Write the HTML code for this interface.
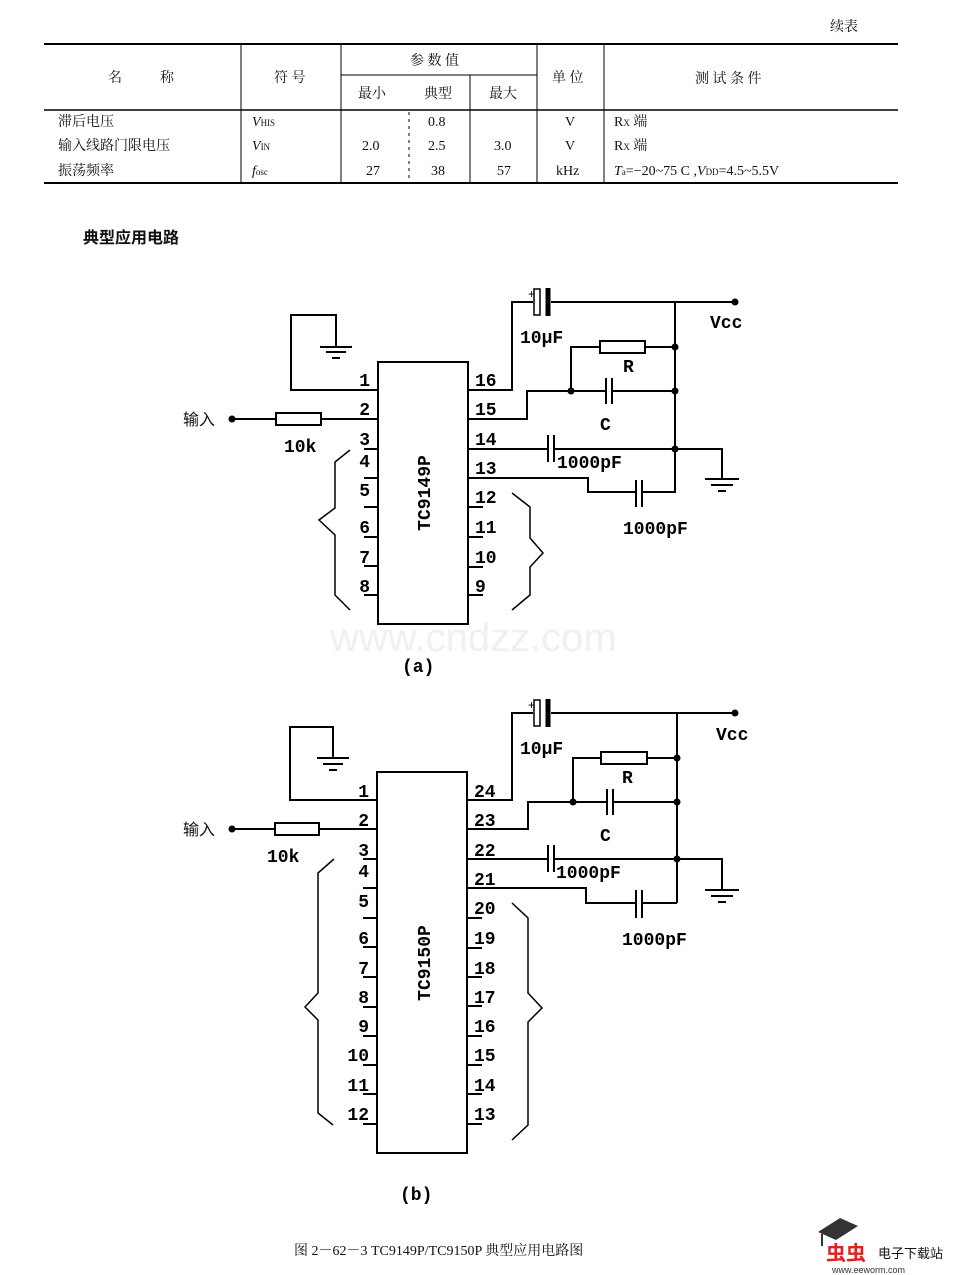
<!DOCTYPE html>
<html><head><meta charset="utf-8"><style>
body{margin:0;background:#fff;width:960px;height:1275px;overflow:hidden}
svg{display:block}
.t{font-family:"Liberation Serif","Noto Serif CJK SC",serif;font-size:14px;fill:#111}
.p{font-family:"Liberation Mono",monospace;font-weight:bold;font-size:18px;fill:#000}
.c{font-family:"Liberation Sans","Noto Sans CJK SC",sans-serif;font-size:16px;fill:#111}
</style></head><body>
<svg width="960" height="1275" viewBox="0 0 960 1275" xmlns="http://www.w3.org/2000/svg">
<!-- table -->
<text x="830" y="31" class="t" font-size="15">续表</text>
<g stroke="#000" fill="none">
<line x1="44" y1="44" x2="898" y2="44" stroke-width="2"/>
<line x1="341" y1="75" x2="537" y2="75"/>
<line x1="44" y1="110" x2="898" y2="110" stroke-width="1.5"/>
<line x1="44" y1="183" x2="898" y2="183" stroke-width="2"/>
<line x1="241" y1="44" x2="241" y2="183"/>
<line x1="341" y1="44" x2="341" y2="183"/>
<line x1="537" y1="44" x2="537" y2="183"/>
<line x1="604" y1="44" x2="604" y2="183"/>
<line x1="470" y1="75" x2="470" y2="183"/>
<line x1="409" y1="112" x2="409" y2="183" stroke-dasharray="3,4"/>
</g>
<text x="108" y="82" class="t">名</text><text x="160" y="82" class="t">称</text>
<text x="274" y="82" class="t">符 号</text>
<text x="410" y="65" class="t">参 数 值</text>
<text x="358" y="98" class="t">最小</text><text x="424" y="98" class="t">典型</text><text x="489" y="98" class="t">最大</text>
<text x="552" y="82" class="t">单 位</text>
<text x="695" y="83" class="t">测  试  条  件</text>
<text x="58" y="126" class="t">滞后电压</text>
<text x="58" y="150" class="t">输入线路门限电压</text>
<text x="58" y="175" class="t">振荡频率</text>
<text x="252" y="126" class="t" font-style="italic">V<tspan font-size="9" font-style="normal">HIS</tspan></text>
<text x="252" y="150" class="t" font-style="italic">V<tspan font-size="9" font-style="normal">IN</tspan></text>
<text x="252" y="175" class="t" font-style="italic">f<tspan font-size="9" font-style="normal">osc</tspan></text>
<text x="428" y="126" class="t">0.8</text>
<text x="362" y="150" class="t">2.0</text><text x="428" y="150" class="t">2.5</text><text x="494" y="150" class="t">3.0</text>
<text x="366" y="175" class="t">27</text><text x="431" y="175" class="t">38</text><text x="497" y="175" class="t">57</text>
<text x="565" y="126" class="t">V</text><text x="565" y="150" class="t">V</text><text x="556" y="175" class="t">kHz</text>
<text x="614" y="126" class="t">R<tspan font-size="9">X</tspan> 端</text>
<text x="614" y="150" class="t">R<tspan font-size="9">X</tspan> 端</text>
<text x="614" y="175" class="t"><tspan font-style="italic">T</tspan><tspan font-size="9">a</tspan>=−20~75 C ,<tspan font-style="italic">V</tspan><tspan font-size="9">DD</tspan>=4.5~5.5V</text>
<text x="83" y="243" class="c" font-weight="bold" font-size="18">典型应用电路</text>

<!-- watermark -->
<text x="330" y="651" font-family="Liberation Sans,sans-serif" font-size="40" fill="#f0f0f0">www.cndzz.com</text>

<!-- circuit a -->
<g stroke="#000" stroke-width="2" fill="none">
<rect x="378" y="362" width="90" height="262"/>
<polyline points="378,390 291,390 291,315 336,315 336,347"/>
<line x1="320" y1="347" x2="352" y2="347"/><line x1="326" y1="352" x2="346" y2="352"/><line x1="332" y1="358" x2="340" y2="358"/>
<line x1="232" y1="419" x2="276" y2="419"/><rect x="276" y="413" width="45" height="12"/><line x1="321" y1="419" x2="378" y2="419"/>
<line x1="364" y1="449" x2="378" y2="449"/><line x1="364" y1="478" x2="378" y2="478"/><line x1="364" y1="507" x2="378" y2="507"/><line x1="364" y1="537" x2="378" y2="537"/><line x1="364" y1="566" x2="378" y2="566"/><line x1="364" y1="595" x2="378" y2="595"/>
<line x1="468" y1="507" x2="483" y2="507"/><line x1="468" y1="537" x2="483" y2="537"/><line x1="468" y1="567" x2="483" y2="567"/><line x1="468" y1="595" x2="483" y2="595"/>
<polyline points="468,390 512,390 512,302 533,302"/>
<rect x="534" y="289" width="6" height="26" stroke-width="1.5"/>
<line x1="548" y1="288" x2="548" y2="316" stroke-width="5"/>
<line x1="551" y1="302" x2="735" y2="302"/>
<line x1="675" y1="302" x2="675" y2="493"/>
<polyline points="571,391 571,347 600,347"/><rect x="600" y="341" width="45" height="12"/><line x1="645" y1="347" x2="675" y2="347"/>
<polyline points="468,419 527,419 527,391 606,391"/><line x1="606" y1="378" x2="606" y2="404"/><line x1="612" y1="378" x2="612" y2="404"/><line x1="612" y1="391" x2="675" y2="391"/>
<line x1="468" y1="449" x2="548" y2="449"/><line x1="548" y1="435" x2="548" y2="462"/><line x1="554" y1="435" x2="554" y2="462"/><polyline points="554,449 722,449 722,479"/>
<line x1="705" y1="479" x2="739" y2="479"/><line x1="711" y1="485" x2="733" y2="485"/><line x1="718" y1="491" x2="726" y2="491"/>
<polyline points="468,478 588,478 588,492 636,492"/><line x1="636" y1="480" x2="636" y2="507"/><line x1="642" y1="480" x2="642" y2="507"/><polyline points="642,492 675,492"/>
<polyline points="350,450 335,462 335,508 319,520 335,535 335,595 350,610" stroke-width="1.5"/>
<polyline points="512,493 530,507 530,538 543,553 530,567 530,595 512,610" stroke-width="1.5"/>
</g>
<g fill="#000"><circle cx="232" cy="419" r="3.5"/><circle cx="735" cy="302" r="3.5"/><circle cx="675" cy="347" r="3.5"/><circle cx="571" cy="391" r="3.5"/><circle cx="675" cy="391" r="3.5"/><circle cx="675" cy="449" r="3.5"/></g>
<text x="528" y="298" font-size="12" font-family="Liberation Sans">+</text>
<g class="p" text-anchor="end">
<text x="370" y="386" class="p">1</text><text x="370" y="415" class="p">2</text><text x="370" y="445" class="p">3</text><text x="370" y="467" class="p">4</text><text x="370" y="496" class="p">5</text><text x="370" y="533" class="p">6</text><text x="370" y="563" class="p">7</text><text x="370" y="592" class="p">8</text>
</g>
<g>
<text x="475" y="386" class="p">16</text><text x="475" y="415" class="p">15</text><text x="475" y="445" class="p">14</text><text x="475" y="474" class="p">13</text><text x="475" y="503" class="p">12</text><text x="475" y="533" class="p">11</text><text x="475" y="563" class="p">10</text><text x="475" y="592" class="p">9</text>
<text x="183" y="425" class="c">输入</text>
<text x="284" y="452" class="p">10k</text>
<text x="520" y="343" class="p">10μF</text>
<text x="710" y="328" class="p">Vcc</text>
<text x="623" y="372" class="p">R</text>
<text x="600" y="430" class="p">C</text>
<text x="557" y="468" class="p">1000pF</text>
<text x="623" y="534" class="p">1000pF</text>
<text x="402" y="672" class="p">(a)</text>
<text transform="translate(430,493) rotate(-90)" text-anchor="middle" class="p" font-size="24">TC9149P</text>
</g>

<!-- circuit b -->
<g stroke="#000" stroke-width="2" fill="none">
<rect x="377" y="772" width="90" height="381"/>
<polyline points="377,800 290,800 290,727 333,727 333,758"/>
<line x1="317" y1="758" x2="349" y2="758"/><line x1="323" y1="764" x2="343" y2="764"/><line x1="329" y1="770" x2="337" y2="770"/>
<line x1="232" y1="829" x2="275" y2="829"/><rect x="275" y="823" width="44" height="12"/><line x1="319" y1="829" x2="377" y2="829"/>
<line x1="363" y1="859" x2="377" y2="859"/><line x1="363" y1="888" x2="377" y2="888"/><line x1="363" y1="918" x2="377" y2="918"/><line x1="363" y1="947" x2="377" y2="947"/><line x1="363" y1="977" x2="377" y2="977"/><line x1="363" y1="1007" x2="377" y2="1007"/><line x1="363" y1="1036" x2="377" y2="1036"/><line x1="363" y1="1065" x2="377" y2="1065"/><line x1="363" y1="1094" x2="377" y2="1094"/><line x1="363" y1="1124" x2="377" y2="1124"/>
<line x1="467" y1="918" x2="482" y2="918"/><line x1="467" y1="948" x2="482" y2="948"/><line x1="467" y1="977" x2="482" y2="977"/><line x1="467" y1="1006" x2="482" y2="1006"/><line x1="467" y1="1036" x2="482" y2="1036"/><line x1="467" y1="1065" x2="482" y2="1065"/><line x1="467" y1="1094" x2="482" y2="1094"/><line x1="467" y1="1124" x2="482" y2="1124"/>
<polyline points="467,800 512,800 512,713 533,713"/>
<rect x="534" y="700" width="6" height="26" stroke-width="1.5"/>
<line x1="548" y1="699" x2="548" y2="727" stroke-width="5"/>
<line x1="551" y1="713" x2="735" y2="713"/>
<line x1="677" y1="713" x2="677" y2="903"/>
<polyline points="573,802 573,758 601,758"/><rect x="601" y="752" width="46" height="12"/><line x1="647" y1="758" x2="677" y2="758"/>
<polyline points="467,829 528,829 528,802 607,802"/><line x1="607" y1="789" x2="607" y2="815"/><line x1="613" y1="789" x2="613" y2="815"/><line x1="613" y1="802" x2="677" y2="802"/>
<line x1="467" y1="859" x2="548" y2="859"/><line x1="548" y1="845" x2="548" y2="872"/><line x1="554" y1="845" x2="554" y2="872"/><polyline points="554,859 722,859 722,890"/>
<line x1="705" y1="890" x2="739" y2="890"/><line x1="711" y1="896" x2="733" y2="896"/><line x1="718" y1="902" x2="726" y2="902"/>
<polyline points="467,888 586,888 586,903 636,903"/><line x1="636" y1="890" x2="636" y2="918"/><line x1="642" y1="890" x2="642" y2="918"/><polyline points="642,903 677,903"/>
<polyline points="334,859 318,873 318,993 305,1007 318,1020 318,1113 333,1125" stroke-width="1.5"/>
<polyline points="512,903 528,918 528,993 542,1008 528,1022 528,1125 512,1140" stroke-width="1.5"/>
</g>
<g fill="#000"><circle cx="232" cy="829" r="3.5"/><circle cx="735" cy="713" r="3.5"/><circle cx="677" cy="758" r="3.5"/><circle cx="573" cy="802" r="3.5"/><circle cx="677" cy="802" r="3.5"/><circle cx="677" cy="859" r="3.5"/></g>
<text x="528" y="709" font-size="12" font-family="Liberation Sans">+</text>
<g text-anchor="end">
<text x="369" y="797" class="p">1</text><text x="369" y="826" class="p">2</text><text x="369" y="856" class="p">3</text><text x="369" y="877" class="p">4</text><text x="369" y="907" class="p">5</text><text x="369" y="944" class="p">6</text><text x="369" y="974" class="p">7</text><text x="369" y="1003" class="p">8</text><text x="369" y="1032" class="p">9</text><text x="369" y="1061" class="p">10</text><text x="369" y="1091" class="p">11</text><text x="369" y="1120" class="p">12</text>
</g>
<g>
<text x="474" y="797" class="p">24</text><text x="474" y="826" class="p">23</text><text x="474" y="856" class="p">22</text><text x="474" y="885" class="p">21</text><text x="474" y="914" class="p">20</text><text x="474" y="944" class="p">19</text><text x="474" y="974" class="p">18</text><text x="474" y="1003" class="p">17</text><text x="474" y="1032" class="p">16</text><text x="474" y="1061" class="p">15</text><text x="474" y="1091" class="p">14</text><text x="474" y="1120" class="p">13</text>
<text x="183" y="835" class="c">输入</text>
<text x="267" y="862" class="p">10k</text>
<text x="520" y="754" class="p">10μF</text>
<text x="716" y="740" class="p">Vcc</text>
<text x="622" y="783" class="p">R</text>
<text x="600" y="841" class="p">C</text>
<text x="556" y="878" class="p">1000pF</text>
<text x="622" y="945" class="p">1000pF</text>
<text x="400" y="1200" class="p">(b)</text>
<text transform="translate(430,963) rotate(-90)" text-anchor="middle" class="p" font-size="24">TC9150P</text>
</g>

<!-- caption -->
<text x="294" y="1255" class="t" font-size="14">图 2－62－3  TC9149P/TC9150P 典型应用电路图</text>
<!-- logo -->
<polygon points="818,1232 840,1218 858,1226 836,1240" fill="#333"/>
<line x1="822" y1="1234" x2="822" y2="1246" stroke="#333" stroke-width="2"/>
<text x="826" y="1260" font-family="Noto Sans CJK SC,sans-serif" font-weight="bold" font-size="20" fill="#d22">虫虫</text>
<text x="878" y="1258" font-family="Noto Sans CJK SC,sans-serif" font-size="13" fill="#111">电子下载站</text>
<text x="832" y="1273" font-family="Liberation Sans,sans-serif" font-size="9" fill="#333">www.eeworm.com</text>
</svg>
</body></html>
